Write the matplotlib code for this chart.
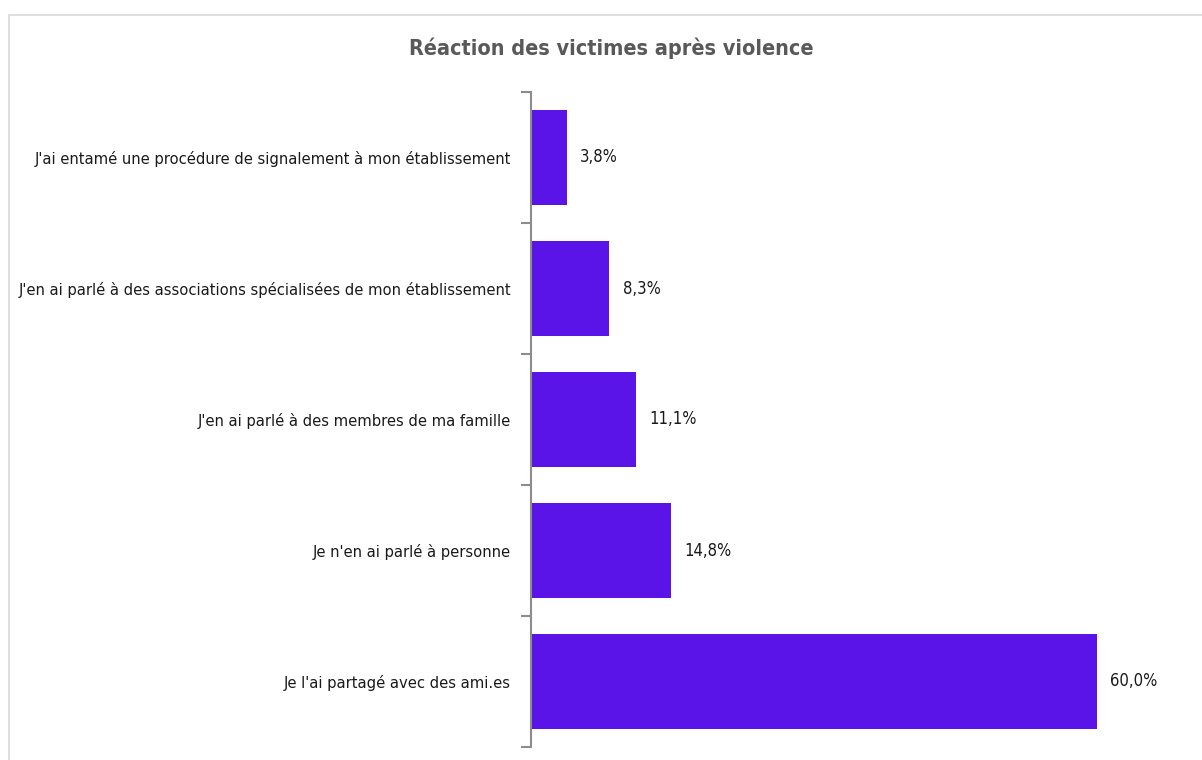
import matplotlib.pyplot as plt
from matplotlib.patches import Rectangle

# données
categories = [
    "J'ai entamé une procédure de signalement à mon établissement",
    "J'en ai parlé à des associations spécialisées de mon établissement",
    "J'en ai parlé à des membres de ma famille",
    "Je n'en ai parlé à personne",
    "Je l'ai partagé avec des ami.es",
]
values = [3.8, 8.3, 11.1, 14.8, 60.0]
value_labels = ["3,8%", "8,3%", "11,1%", "14,8%", "60,0%"]

plt.rcParams['font.family'] = ['DejaVu Sans']
plt.rcParams['font.stretch'] = 'condensed'

fig = plt.figure(figsize=(12.02, 7.6), dpi=100)
fig.patches.append(Rectangle((9 / 1202, -0.1), 1.1, (760 - 15) / 760 + 0.1,
                             transform=fig.transFigure, fill=False,
                             edgecolor='#d9d9d9', linewidth=1.2))

ax = fig.add_axes([531 / 1202, 13 / 760, 649 / 1202, 655 / 760])
y = list(range(len(categories)))
ax.barh(y, values, height=0.72, color='#5b14e8')
ax.set_ylim(len(categories) - 0.5, -0.5)
ax.set_xlim(0, 68.8)

for yi, v, lab in zip(y, values, value_labels):
    ax.text(v + 1.4, yi, lab, va='center', ha='left', fontsize=12, color='#1a1a1a')

ax.set_yticks([i - 0.5 for i in range(len(categories) + 1)], minor=False)
ax.set_yticklabels([])
ax.set_yticks(y, minor=True)
ax.set_yticklabels(categories, minor=True, fontsize=11.8, color='#1a1a1a')
ax.tick_params(axis='y', which='major', length=7, width=1.5, color='#8c8c8c')
ax.tick_params(axis='y', which='minor', length=0, pad=14.5)
ax.set_xticks([])
for s in ['top', 'right', 'bottom']:
    ax.spines[s].set_visible(False)
ax.spines['left'].set_color('#8c8c8c')
ax.spines['left'].set_linewidth(1.5)

fig.text(611 / 1202, 1 - 48 / 760, "Réaction des victimes après violence",
         ha='center', va='center', fontsize=15.5, fontweight='bold', color='#595959')

fig.savefig('out.png', dpi=100)
